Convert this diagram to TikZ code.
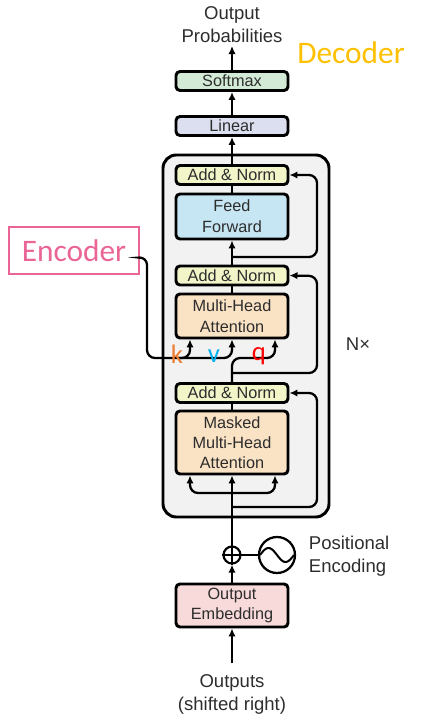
\documentclass[tikz,border=0pt]{standalone}
\usepackage{fontspec}
\setmainfont{Liberation Sans}
\newfontfamily\calib{Carlito}
\usetikzlibrary{arrows.meta,calc}
\definecolor{txt}{RGB}{45,45,45}
\definecolor{bgc}{RGB}{242,242,242}
\definecolor{smc}{RGB}{211,234,214}
\definecolor{linc}{RGB}{220,223,240}
\definecolor{anc}{RGB}{242,245,200}
\definecolor{ffc}{RGB}{199,230,244}
\definecolor{mhc}{RGB}{250,226,196}
\definecolor{embc}{RGB}{248,218,218}
\definecolor{decc}{RGB}{255,192,0}
\definecolor{encc}{RGB}{234,100,150}
\definecolor{kc}{RGB}{237,125,49}
\definecolor{vc}{RGB}{0,176,240}
\definecolor{qc}{RGB}{255,0,0}
\begin{document}
\begin{tikzpicture}[x=0.75pt,y=-0.75pt,
  box/.style={draw=black, line width=2.2pt, rounded corners=3pt, inner sep=0pt,
    minimum width=112*0.75pt, align=center, text=txt,
    font=\fontsize{12.2}{16}\selectfont},
  arr/.style={line width=1.7pt, -{Latex[length=6pt,width=5.5pt]}},
  ln/.style={line width=1.7pt},
  lbl/.style={text=txt, align=center, inner sep=2pt, font=\fontsize{13.9}{17.3}\selectfont},
  kvq/.style={anchor=base, inner sep=0pt, font=\calib\fontsize{20}{20}\selectfont}]
\useasboundingbox (0,0) rectangle (434,720);
% stack background
\node[draw, line width=2.2pt, rounded corners=10pt, fill=bgc,
  minimum width=166*0.75pt, minimum height=362*0.75pt] (stack) at (246,336) {};
% boxes
\node[box, fill=smc, minimum height=19*0.75pt] (softmax) at (232,81) {Softmax};
\node[box, fill=linc, minimum height=19*0.75pt] (linear) at (232,126) {Linear};
\node[box, fill=anc, minimum height=19*0.75pt] (an1) at (232,175) {Add \& Norm};
\node[box, fill=ffc, minimum height=45*0.75pt] (ff) at (232,216.5) {Feed\\Forward};
\node[box, fill=anc, minimum height=19*0.75pt] (an2) at (232,275.5) {Add \& Norm};
\node[box, fill=mhc, minimum height=44*0.75pt] (mha) at (232,316) {Multi-Head\\Attention};
\node[box, fill=anc, minimum height=19*0.75pt] (an3) at (232,393) {Add \& Norm};
\node[box, fill=mhc, minimum height=63*0.75pt, font=\fontsize{12.2}{15}\selectfont] (mmha) at (232,442.5) {Masked\\Multi-Head\\Attention};
\node[box, fill=embc, minimum height=43*0.75pt, font=\fontsize{12.2}{15}\selectfont] (emb) at (232,605.5) {Output\\Embedding};
% labels
\node[lbl] (out) at (232,25) {Output\\Probabilities};
\node[lbl] (outs) at (232,694) {Outputs\\(shifted right)};
\node[lbl, align=left, anchor=west] (pel) at (306,556) {Positional\\Encoding};
\node[lbl] (nx) at (358,344) {N×};
\node[text=decc, inner sep=0pt, font=\calib\fontsize{23.5}{28}\selectfont] (dec) at (351,53) {Decoder};
\node[draw=encc, line width=2pt, text=encc, inner sep=0pt,
  minimum width=130*0.75pt, minimum height=47*0.75pt,
  font=\calib\fontsize{23.5}{28}\selectfont] (enc) at (74,250.5) {Encoder};
% plus and positional encoding
\node[draw, circle, line width=1.6pt, minimum size=17*0.75pt, inner sep=0pt] (plus) at (232,555) {};
\draw[line width=1.2pt] (plus.north) -- (plus.south) (plus.west) -- (plus.east);
\node[draw, circle, line width=1.7pt, minimum size=36*0.75pt, inner sep=0pt] (pe) at (277,555) {};
\draw[ln] (plus) -- (pe);
\draw[line width=1.5pt] plot[domain=-1:1, samples=40, smooth] ({277+17*\x},{555+7*sin(180*\x)});
% connectors
\draw[arr] (softmax) -- (out);
\draw[arr] (linear) -- (softmax);
\draw[arr] (an1) -- (linear);
\draw[ln] (ff) -- (an1);
\draw[arr] (an2) -- (ff);
\draw[ln] (mha) -- (an2);
\draw[ln] (mmha) -- (an3);
\draw[arr] (plus) -- (mmha);
\draw[arr] (emb) -- (plus);
\draw[arr] ($(outs.north)+(0,-8)$) -- (emb);
% residuals
\coordinate (r1) at (232,257);
\coordinate (r2) at (232,373);
\coordinate (r3) at (232,507);
\coordinate (b) at (232,493);
\draw[arr, rounded corners=6pt] (r1) -- (317,257) -- (317,175) -- (an1.east);
\draw[arr, rounded corners=6pt] (r2) -- (317,373) -- (317,276) -- (an2.east);
\draw[arr, rounded corners=6pt] (r3) -- (317,507) -- (317,393) -- (an3.east);
\draw[arr, rounded corners=6pt] (b) -- (190,493) -- ($(mmha.south)+(-42,0)$);
\draw[arr, rounded corners=6pt] (b) -- (275,493) -- ($(mmha.south)+(43,0)$);
% attention inputs
\draw[arr, rounded corners=6pt] (an3.north) -- (232,358) -- (275,358) -- ($(mha.south)+(43,0)$);
\draw[arr, rounded corners=6pt] ($(enc.east)+(0,7)$) -- (147,257) -- (147,358) -- (232,358) -- (mha.south);
\draw[arr, rounded corners=6pt] (178,358) -- (190,358) -- ($(mha.south)+(-42,0)$);
% k v q
\node[kvq, text=kc] (k) at (177,363) {k};
\node[kvq, text=vc] (v) at (214,362) {v};
\node[kvq, text=qc] (q) at (259,360) {q};
\end{tikzpicture}
\end{document}
